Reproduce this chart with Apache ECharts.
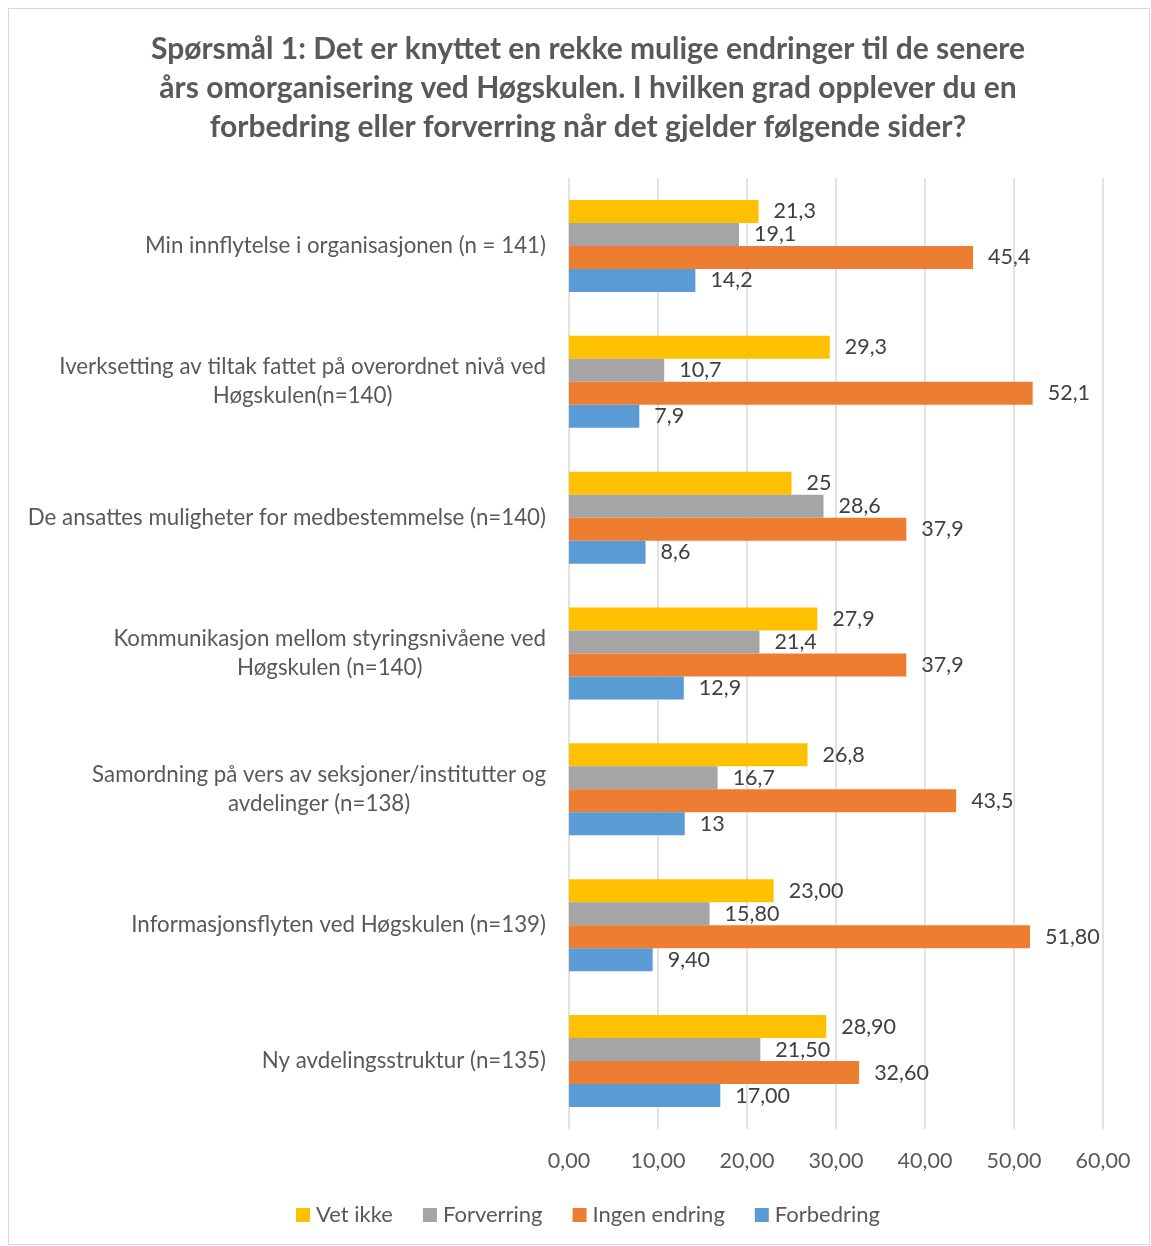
<!DOCTYPE html>
<html>
<head>
<meta charset="utf-8">
<script src="https://cdn.jsdelivr.net/npm/echarts@6/dist/echarts.min.js"></script>
<style>
html,body{margin:0;padding:0;background:#fff;}
#frame{position:absolute;left:8px;top:8px;width:1142px;height:1237px;border:1px solid #d9d9d9;box-sizing:border-box;}
#chart{position:absolute;left:0;top:0;width:1151px;height:1246px;}
</style>
</head>
<body>
<div id="frame"></div>
<div id="chart"></div>
<script>
const titleText = "Spørsmål 1: Det er knyttet en rekke mulige endringer til de senere\nårs omorganisering ved Høgskulen. I hvilken grad opplever du en\nforbedring eller forverring når det gjelder følgende sider?";
const categories = [
  "Min innflytelse i organisasjonen (n = 141)",
  "Iverksetting av tiltak fattet på overordnet nivå ved\nHøgskulen(n=140)",
  "De ansattes muligheter for medbestemmelse (n=140)",
  "Kommunikasjon mellom styringsnivåene ved\nHøgskulen (n=140)",
  "Samordning på vers av seksjoner/institutter og\navdelinger (n=138)",
  "Informasjonsflyten ved Høgskulen (n=139)",
  "Ny avdelingsstruktur (n=135)"
];
const labelDecimals = [null, null, null, null, null, 2, 2];
const seriesNames = ["Vet ikke", "Forverring", "Ingen endring", "Forbedring"];
const vetIkke      = [21.3, 29.3, 25, 27.9, 26.8, 23.00, 28.90];
const forverring   = [19.1, 10.7, 28.6, 21.4, 16.7, 15.80, 21.50];
const ingenEndring = [45.4, 52.1, 37.9, 37.9, 43.5, 51.80, 32.60];
const forbedring   = [14.2, 7.9, 8.6, 12.9, 13, 9.40, 17.00];
const xTicks = [0, 10, 20, 30, 40, 50, 60];
const colors = ["#FFC000", "#A5A5A5", "#ED7D31", "#5B9BD5"];

const FONT = "Lato, 'Open Sans', sans-serif";
const seriesData = [vetIkke, forverring, ingenEndring, forbedring];

function fmtLabel(p) {
  const d = labelDecimals[p.dataIndex];
  return d == null ? String(p.value).replace('.', ',') : p.value.toFixed(d).replace('.', ',');
}

const chart = echarts.init(document.getElementById('chart'), null, {renderer: 'canvas'});
chart.setOption({
  animation: false,
  textStyle: {fontFamily: FONT},
  title: {
    text: titleText,
    left: 583, textAlign: 'center', top: 25,
    textStyle: {fontFamily: FONT, fontSize: 30, fontWeight: 'bold', color: '#595959', lineHeight: 39}
  },
  legend: {
    data: seriesNames,
    bottom: 15, left: 291,
    itemWidth: 14, itemHeight: 14, itemGap: 30,
    icon: 'rect',
    textStyle: {fontFamily: FONT, fontSize: 22, color: '#595959', padding: [0,0,0,1]}
  },
  grid: {left: 569, right: 48, top: 178, bottom: 117, containLabel: false},
  xAxis: {
    type: 'value', min: xTicks[0], max: xTicks[xTicks.length-1], interval: 10,
    axisLine: {show: false}, axisTick: {show: false},
    splitLine: {lineStyle: {color: '#d9d9d9', width: 1.5}},
    axisLabel: {fontFamily: FONT, fontSize: 21.5, color: '#595959', margin: 21,
      formatter: v => v.toFixed(2).replace('.', ',')}
  },
  yAxis: {
    type: 'category', data: categories, inverse: true,
    axisLine: {show: false}, axisTick: {show: false},
    axisLabel: {fontFamily: FONT, fontSize: 22.3, color: '#595959', margin: 23, lineHeight: 29, align: 'right',
      formatter: v => v.split('\n').map(l => '{c|' + l + '}').join('\n'),
      rich: {c: {align: 'center', fontFamily: FONT, fontSize: 22.3, color: '#595959', lineHeight: 29}}}
  },
  series: seriesNames.map((n, i) => ({
    name: n, type: 'bar', data: seriesData[i],
    barWidth: 23, barGap: '0%',
    itemStyle: {color: colors[i]},
    label: {show: true, position: 'right', distance: 15, formatter: fmtLabel,
      fontFamily: FONT, fontSize: 21.5, color: '#404040'}
  }))
});
</script>
</body>
</html>
